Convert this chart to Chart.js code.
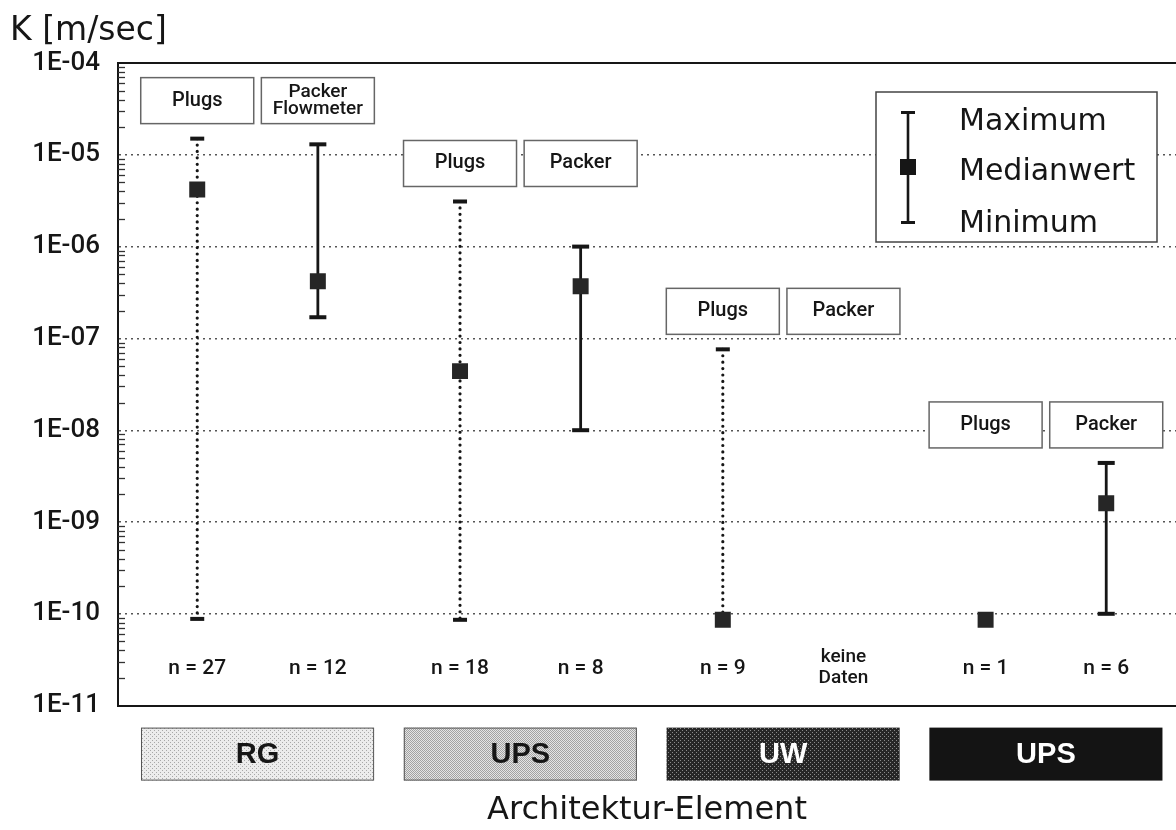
<!DOCTYPE html>
<html>
<head>
<meta charset="utf-8">
<title>Durchlässigkeit K nach Architektur-Element</title>
<script src="https://cdn.jsdelivr.net/npm/chart.js@4.4.1/dist/chart.umd.min.js"></script>
<style>
  html, body { margin: 0; padding: 0; background: #fff; overflow: hidden; }
  #wrap { width: 1176px; height: 830px; }
</style>
</head>
<body>
<div id="wrap"><canvas id="kChart" width="1176" height="830"></canvas></div>
<script>
// --- data ---
const groups = ['RG', 'UPS', 'UW', 'UPS'];
const methods = ['Plugs', 'Packer'];
// one entry per group x method: RG-Plugs, RG-Packer, UPS-Plugs, ...
const boxLabels = ['Plugs', 'Packer\nFlowmeter', 'Plugs', 'Packer', 'Plugs', 'Packer', 'Plugs', 'Packer'];
const kMax    = [1.5e-5, 1.3e-5, 3.1e-6, 1.0e-6, 7.6e-8, null, 8.6e-11, 4.4e-9];
const kMedian = [4.2e-6, 4.2e-7, 4.4e-8, 3.7e-7, 8.6e-11, null, 8.6e-11, 1.6e-9];
const kMin    = [8.8e-11, 1.7e-7, 8.6e-11, 1.0e-8, 8.6e-11, null, 8.6e-11, 1.0e-10];
const nLabels = ['n = 27', 'n = 12', 'n = 18', 'n = 8', 'n = 9', 'keine\nDaten', 'n = 1', 'n = 6'];
const yTickValues = [1e-11, 1e-10, 1e-9, 1e-8, 1e-7, 1e-6, 1e-5, 1e-4];
const yTickLabels = ['1E-11', '1E-10', '1E-09', '1E-08', '1E-07', '1E-06', '1E-05', '1E-04'];
const yMinorSteps = [2, 3, 4, 5, 6, 7, 8, 9];
const legendLabels = ['Maximum', 'Medianwert', 'Minimum'];
const yUnit = 'K [m/sec]';
const xTitle = 'Architektur-Element';

// --- style ---
const INK = '#161616';
const PAIR_SPREAD = 0.459;   // Plugs <-> Packer distance, in group units
const GROUP_BOX = 0.887;     // width of the element boxes below the axis
const SANS = 'Roboto, "Liberation Sans", Arial, sans-serif';
const WIDE = '"DejaVu Sans", sans-serif';

const xOf = i => Math.floor(i / 2) + (i % 2 - 0.5) * PAIR_SPREAD;

const medianPoints = kMedian
    .map((v, i) => ({ x: xOf(i), y: v }))
    .filter(p => p.y !== null);

const canvas = document.getElementById('kChart');
const mainCtx = canvas.getContext('2d');

function stipple(bg, dot, step) {
    const c = document.createElement('canvas');
    c.width = c.height = step * 2;
    const g = c.getContext('2d');
    g.fillStyle = bg;
    g.fillRect(0, 0, c.width, c.height);
    g.fillStyle = dot;
    g.fillRect(0, 0, 1, 1);
    g.fillRect(step, step, 1, 1);
    return mainCtx.createPattern(c, 'repeat');
}

// RG light, UPS medium, UW dark, UPS black
const groupFills = [
    stipple('#ececec', '#a8a8a8', 2),
    stipple('#e4e4e4', '#a2a2a2', 1),
    stipple('#262626', '#8a8a8a', 2),
    '#141414'
];
const groupText = [INK, INK, '#ffffff', '#ffffff'];
const groupBorder = ['#555', '#555', null, null];

const drawExtras = {
    id: 'drawExtras',
    beforeDatasetsDraw(chart) {
        const ctx = chart.ctx;
        const area = chart.chartArea;
        const xs = chart.scales.x;
        const ys = chart.scales.y;
        ctx.save();

        // top frame line
        ctx.strokeStyle = INK;
        ctx.lineWidth = 2;
        ctx.beginPath();
        ctx.moveTo(area.left - 1, area.top);
        ctx.lineTo(area.right, area.top);
        ctx.stroke();

        // inner log ticks on the y axis
        ctx.lineWidth = 1.3;
        ctx.strokeStyle = '#333';
        for (let d = 0; d < yTickValues.length - 1; d++) {
            yMinorSteps.forEach(k => {
                const y = Math.round(ys.getPixelForValue(k * yTickValues[d])) + 0.5;
                ctx.beginPath();
                ctx.moveTo(area.left, y);
                ctx.lineTo(area.left + 7, y);
                ctx.stroke();
            });
        }

        // whiskers
        kMax.forEach((hi, i) => {
            if (hi === null) return;
            const x = xs.getPixelForValue(xOf(i));
            const yHi = ys.getPixelForValue(hi);
            const yLo = ys.getPixelForValue(kMin[i]);
            const dotted = methods[i % 2] === 'Plugs';
            ctx.strokeStyle = INK;
            ctx.fillStyle = INK;
            if (dotted) {
                ctx.setLineDash([0.01, 6.4]);
                ctx.lineCap = 'round';
                ctx.lineWidth = 3.2;
            } else {
                ctx.setLineDash([]);
                ctx.lineCap = 'butt';
                ctx.lineWidth = 2.8;
            }
            ctx.beginPath();
            ctx.moveTo(x, yHi);
            ctx.lineTo(x, yLo);
            ctx.stroke();
            ctx.setLineDash([]);
            const capW = dotted ? 14 : 17;
            ctx.fillRect(x - capW / 2, yHi - 2, capW, 4);
            ctx.fillRect(x - capW / 2, yLo - 2, capW, 4);
        });
        ctx.restore();
    },
    afterDatasetsDraw(chart) {
        const ctx = chart.ctx;
        const area = chart.chartArea;
        const xs = chart.scales.x;
        const ys = chart.scales.y;
        ctx.save();
        ctx.textAlign = 'center';
        ctx.textBaseline = 'middle';

        // method boxes above each group
        boxLabels.forEach((label, i) => {
            const g = Math.floor(i / 2);
            const his = [kMax[2 * g], kMax[2 * g + 1]].filter(v => v !== null);
            const top = Math.min(...his.map(v => ys.getPixelForValue(v)));
            const bottom = top - 15;
            const cx = xs.getPixelForValue(xOf(i));
            ctx.fillStyle = '#fff';
            ctx.fillRect(cx - 56.5, bottom - 46, 113, 46);
            ctx.strokeStyle = '#666';
            ctx.lineWidth = 1.5;
            ctx.strokeRect(cx - 56.5, bottom - 46, 113, 46);
            ctx.fillStyle = INK;
            const lines = label.split('\n');
            if (lines.length === 1) {
                ctx.font = '500 20px ' + SANS;
                ctx.fillText(lines[0], cx, bottom - 23);
            } else {
                ctx.font = '500 19px ' + SANS;
                ctx.fillText(lines[0], cx, bottom - 31);
                ctx.fillText(lines[1], cx, bottom - 14);
            }
        });

        // sample sizes
        nLabels.forEach((label, i) => {
            const cx = xs.getPixelForValue(xOf(i));
            const cy = area.bottom - 37;
            const lines = label.split('\n');
            ctx.fillStyle = INK;
            if (lines.length === 1) {
                ctx.font = '500 21px ' + SANS;
                ctx.fillText(lines[0], cx, cy);
            } else {
                ctx.font = '500 19px ' + SANS;
                ctx.fillText(lines[0], cx, cy - 11);
                ctx.fillText(lines[1], cx, cy + 10);
            }
        });

        // legend
        const lx = area.right - 300, ly = area.top + 29;
        ctx.fillStyle = '#fff';
        ctx.fillRect(lx, ly, 281, 150);
        ctx.strokeStyle = '#444';
        ctx.lineWidth = 1.5;
        ctx.strokeRect(lx, ly, 281, 150);
        const sx = lx + 32;
        ctx.fillStyle = INK;
        ctx.strokeStyle = INK;
        ctx.lineWidth = 2.6;
        ctx.beginPath();
        ctx.moveTo(sx, ly + 20);
        ctx.lineTo(sx, ly + 130);
        ctx.stroke();
        ctx.fillRect(sx - 7, ly + 19, 14, 3);
        ctx.fillRect(sx - 7, ly + 129, 14, 3);
        ctx.fillRect(sx - 8, ly + 67, 16, 16);
        ctx.font = '30px ' + WIDE;
        ctx.textAlign = 'left';
        ctx.textBaseline = 'alphabetic';
        ctx.fillText(legendLabels[0], lx + 83, ly + 38);
        ctx.fillText(legendLabels[1], lx + 83, ly + 88);
        ctx.fillText(legendLabels[2], lx + 83, ly + 140);
        ctx.restore();
    },
    afterDraw(chart) {
        const ctx = chart.ctx;
        const area = chart.chartArea;
        const xs = chart.scales.x;
        ctx.save();

        // architecture element boxes
        groups.forEach((name, g) => {
            const x0 = xs.getPixelForValue(g - GROUP_BOX / 2);
            const x1 = xs.getPixelForValue(g + GROUP_BOX / 2);
            const y0 = area.bottom + 22;
            ctx.fillStyle = groupFills[g];
            ctx.fillRect(x0, y0, x1 - x0, 53);
            if (groupBorder[g]) {
                ctx.strokeStyle = groupBorder[g];
                ctx.lineWidth = 1;
                ctx.strokeRect(x0 + 0.5, y0 + 0.5, x1 - x0 - 1, 52);
            }
            ctx.fillStyle = groupText[g];
            ctx.font = 'bold 29px "Liberation Sans", Arial, sans-serif';
            ctx.textAlign = 'center';
            ctx.textBaseline = 'middle';
            ctx.fillText(name, (x0 + x1) / 2, y0 + 27);
        });

        // unit label above the y axis
        ctx.fillStyle = INK;
        ctx.font = '33px ' + WIDE;
        ctx.textAlign = 'left';
        ctx.textBaseline = 'alphabetic';
        ctx.fillText(yUnit, 10, 40);
        ctx.restore();
    }
};

new Chart(canvas, {
    type: 'scatter',
    data: {
        datasets: [{
            label: legendLabels[1],
            data: medianPoints,
            pointStyle: 'rect',
            pointRadius: 11.3,
            pointHoverRadius: 11.3,
            backgroundColor: '#262626',
            borderColor: '#262626',
            borderWidth: 0
        }]
    },
    options: {
        responsive: false,
        animation: false,
        events: [],
        layout: { autoPadding: false, padding: { top: 63, left: 0, right: 0, bottom: 0 } },
        plugins: {
            legend: { display: false },
            tooltip: { enabled: false }
        },
        scales: {
            x: {
                type: 'linear',
                min: -0.531,
                max: 3.495,
                grid: { display: false, drawTicks: false },
                border: { display: true, color: INK, width: 2 },
                ticks: { display: false },
                title: {
                    display: true,
                    text: xTitle,
                    color: INK,
                    font: { family: WIDE, size: 32 },
                    padding: { top: 86, bottom: 0 }
                }
            },
            y: {
                type: 'logarithmic',
                min: 1e-11,
                max: 1e-4,
                afterBuildTicks: scale => {
                    scale.ticks = yTickValues.map(v => ({ value: v, major: true }));
                },
                afterFit: scale => { scale.width = 118; },
                grid: {
                    drawTicks: false,
                    lineWidth: 1.4,
                    color: c => (c.tick && (c.tick.value === yTickValues[0] ||
                        c.tick.value === yTickValues[yTickValues.length - 1])) ? 'rgba(0,0,0,0)' : '#555'
                },
                border: { display: true, color: INK, width: 2, dash: [2, 4] },
                ticks: {
                    padding: 18,
                    color: INK,
                    font: { family: SANS, size: 26, weight: '500' },
                    callback: v => yTickLabels[yTickValues.indexOf(v)]
                }
            }
        }
    },
    plugins: [drawExtras]
});
</script>
</body>
</html>
